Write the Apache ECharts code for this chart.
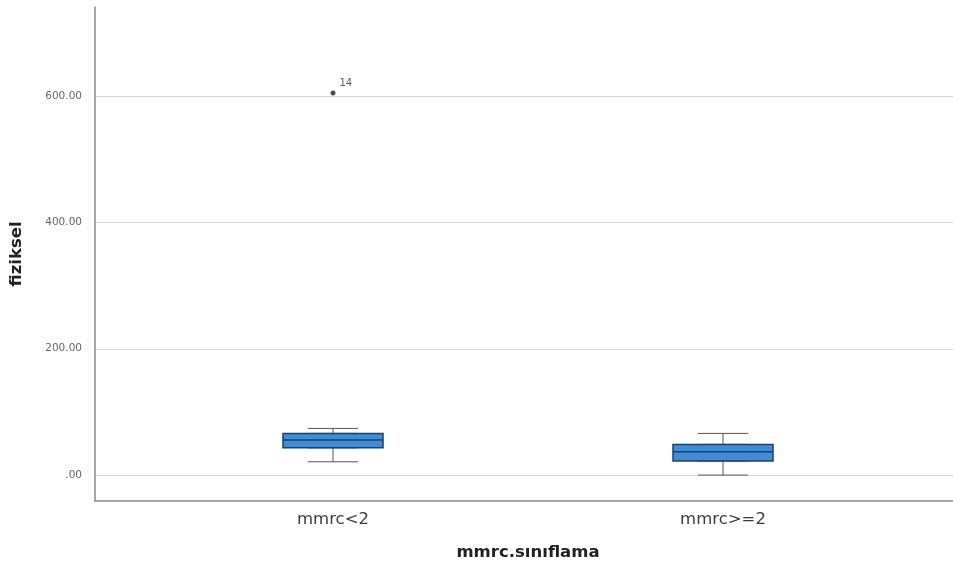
<!DOCTYPE html>
<html>
<head>
<meta charset="utf-8">
<script src="https://cdn.jsdelivr.net/npm/echarts@6/dist/echarts.min.js"></script>
<style>html,body{margin:0;padding:0;background:#fff}#c{width:953px;height:571px}</style>
</head>
<body>
<div id="c"></div>
<script>
const categories = ['mmrc<2', 'mmrc>=2'];
const whiskerLow = [21.1, 0];
const q1 = [43.2, 22.2];
const median = [55.4, 36.9];
const q3 = [66.0, 48.6];
const whiskerHigh = [73.9, 66.0];
const outlierCats = ['mmrc<2'];
const outlierValues = [605];
const outlierIds = ['14'];
const yTicks = [0, 200, 400, 600];
const yMin = -41, yMax = 741;

const chart = echarts.init(document.getElementById('c'), null, {renderer: 'canvas'});
const font = 'DejaVu Sans, sans-serif';

const whiskerData = categories.map((c, i) => [whiskerLow[i], q1[i], median[i], q3[i], whiskerHigh[i]]);
const boxData = categories.map((c, i) => [q1[i], q1[i], median[i], q3[i], q3[i]]);

chart.setOption({
  animation: false,
  grid: [
    {left: 138, right: 35, top: 7, bottom: 70},
    {left: 93, right: 0, top: 7, bottom: 70}
  ],
  xAxis: [
    {type: 'category', gridIndex: 0, data: categories,
     axisLine: {show: false}, axisTick: {show: false},
     axisLabel: {fontSize: 16.5, color: '#3a3a3a', margin: 10, fontFamily: font},
     name: 'mmrc.sınıflama', nameLocation: 'middle', nameGap: 43,
     nameTextStyle: {fontSize: 16.5, fontWeight: 'bold', color: '#222', fontFamily: font}},
    {type: 'value', gridIndex: 1, min: 0, max: 1,
     axisLine: {show: true, onZero: false, lineStyle: {color: '#8a8a8a', width: 1.5}},
     axisTick: {show: false}, axisLabel: {show: false}, splitLine: {show: false}},
    {type: 'category', gridIndex: 0, data: categories, show: false}
  ],
  yAxis: [
    {type: 'value', gridIndex: 0, min: yMin, max: yMax, show: false, splitLine: {show: false}},
    {type: 'value', gridIndex: 1, min: yMin, max: yMax,
     axisLine: {show: true, onZero: false, lineStyle: {color: '#8a8a8a', width: 1.5}},
     axisTick: {show: false, customValues: yTicks},
     axisLabel: {customValues: yTicks, fontSize: 10.5, color: '#666', margin: 13, fontFamily: font,
       formatter: v => v === 0 ? '.00' : v.toFixed(2)},
     splitLine: {show: true, lineStyle: {color: '#d8d8d8', width: 1}},
     name: 'fiziksel', nameLocation: 'middle', nameGap: 70,
     nameTextStyle: {fontSize: 16.5, fontWeight: 'bold', color: '#222', fontFamily: font}}
  ],
  series: [
    {type: 'boxplot', xAxisIndex: 2, yAxisIndex: 0, data: whiskerData, boxWidth: [50, 50], z: 2,
     itemStyle: {color: '#3d8ed6', borderColor: '#555', borderWidth: 1}},
    {type: 'boxplot', xAxisIndex: 0, yAxisIndex: 0, data: boxData, boxWidth: [100, 100], z: 3,
     itemStyle: {color: '#3d8ed6', borderColor: '#1f3f66', borderWidth: 1.5}},
    {type: 'scatter', xAxisIndex: 0, yAxisIndex: 0, z: 4,
     data: outlierCats.map((c, i) => [c, outlierValues[i]]),
     symbol: 'circle', symbolSize: 5, itemStyle: {color: '#222'},
     label: {show: true, position: 'right', offset: [-1, -10], fontSize: 10, color: '#333', fontFamily: font,
       formatter: p => outlierIds[p.dataIndex]}}
  ]
});
</script>
</body>
</html>
